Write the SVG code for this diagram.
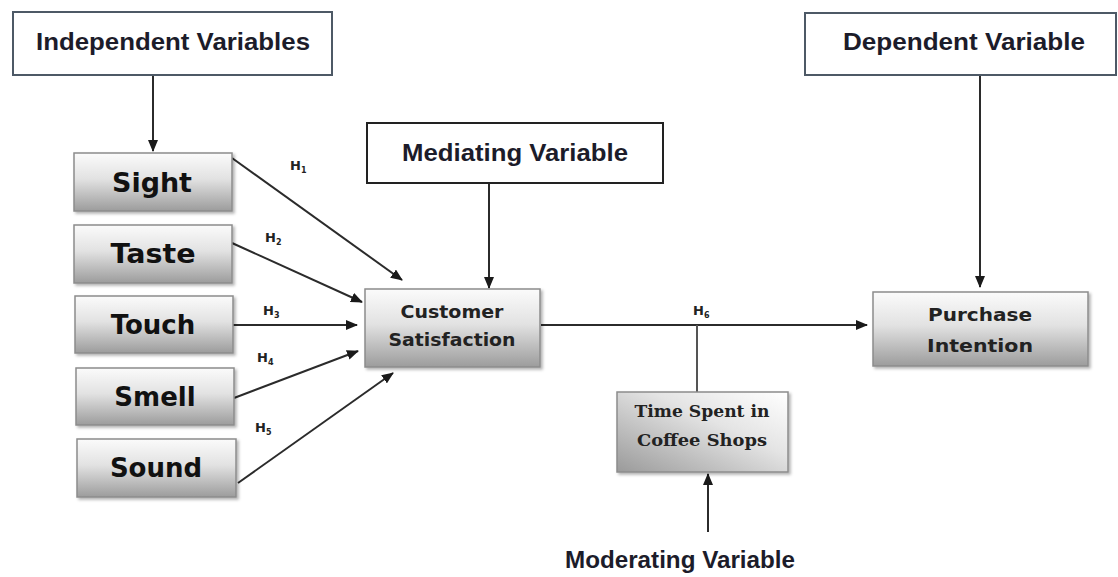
<svg xmlns="http://www.w3.org/2000/svg" width="1118" height="577" viewBox="0 0 1118 577">
<style>
.hdr{fill:#fff;stroke:#4d5966;stroke-width:2}
.hdrtxt{font-family:"Liberation Sans",Arial,sans-serif;font-weight:bold;font-size:23px;fill:#1c1c2a;text-anchor:middle}
.box{fill:url(#g);stroke:#8c8c8c;stroke-width:1.5;filter:url(#sh)}
.sense{font-family:"DejaVu Sans",sans-serif;font-weight:bold;font-size:26px;fill:#111;text-anchor:middle}
.mid{font-family:"DejaVu Sans",sans-serif;font-weight:bold;font-size:18px;fill:#222;text-anchor:middle}
.serif{font-family:"DejaVu Serif",serif;font-weight:bold;font-size:16px;fill:#222;text-anchor:middle}
.h{font-family:"DejaVu Sans",sans-serif;font-weight:bold;font-size:13px;fill:#222}
.ln{stroke:#2b2b2b;stroke-width:2;fill:none;marker-end:url(#a)}
.pl{stroke:#555;stroke-width:2;fill:none}
</style>
<defs>
<linearGradient id="g" x1="0" y1="0" x2="0" y2="1">
<stop offset="0" stop-color="#fbfbfb"/>
<stop offset="0.45" stop-color="#e2e2e2"/>
<stop offset="1" stop-color="#9c9c9c"/>
</linearGradient>
<linearGradient id="g2" x1="0" y1="1" x2="1" y2="0">
<stop offset="0" stop-color="#9a9a9a"/>
<stop offset="0.6" stop-color="#e4e4e4"/>
<stop offset="1" stop-color="#ffffff"/>
</linearGradient>
<filter id="sh" x="-10%" y="-10%" width="125%" height="130%">
<feDropShadow dx="2" dy="2" stdDeviation="1.5" flood-color="#000" flood-opacity="0.3"/>
</filter>
<marker id="a" markerWidth="12" markerHeight="10" refX="11" refY="5" orient="auto" markerUnits="userSpaceOnUse">
<path d="M0,0 L12,5 L0,10 Z" fill="#1a1a1a"/>
</marker>
</defs>

<g id="connectors">
<line class="ln" x1="153" y1="76" x2="153" y2="151"/>
<line class="ln" x1="232" y1="158" x2="402" y2="280"/>
<line class="ln" x1="232" y1="243" x2="362" y2="302"/>
<line class="ln" x1="233" y1="325" x2="357" y2="325"/>
<line class="ln" x1="234" y1="398" x2="358" y2="351"/>
<line class="ln" x1="238" y1="483" x2="393" y2="373"/>
<line class="ln" x1="489" y1="184" x2="489" y2="288"/>
<line class="ln" x1="541" y1="325" x2="867" y2="325"/>
<line class="pl" x1="697" y1="325" x2="697" y2="392"/>
<line class="ln" x1="708" y1="532" x2="708" y2="474"/>
<line class="ln" x1="980" y1="76" x2="980" y2="287"/>
</g>

<g id="lbl-h">
<text class="h" x="290" y="170">H<tspan font-size="8" dy="3">1</tspan></text>
<text class="h" x="265" y="242">H<tspan font-size="8" dy="3">2</tspan></text>
<text class="h" x="263" y="315">H<tspan font-size="8" dy="3">3</tspan></text>
<text class="h" x="257" y="362">H<tspan font-size="8" dy="3">4</tspan></text>
<text class="h" x="255" y="432">H<tspan font-size="8" dy="3">5</tspan></text>
<text class="h" x="693" y="315">H<tspan font-size="8" dy="3">6</tspan></text>
</g>

<g id="independent">
<rect class="hdr" x="13" y="12" width="319" height="63"/>
<text class="hdrtxt" x="173" y="50" textLength="274" lengthAdjust="spacingAndGlyphs">Independent Variables</text>
</g>
<g id="dependent">
<rect class="hdr" x="805" y="13" width="311" height="62"/>
<text class="hdrtxt" x="964" y="50" textLength="242" lengthAdjust="spacingAndGlyphs">Dependent Variable</text>
</g>
<g id="mediating">
<rect class="hdr" x="367" y="123" width="296" height="60" style="stroke:#222"/>
<text class="hdrtxt" x="515" y="161" textLength="226" lengthAdjust="spacingAndGlyphs">Mediating Variable</text>
</g>
<g id="moderating">
<text class="hdrtxt" x="680" y="568" textLength="230" lengthAdjust="spacingAndGlyphs">Moderating Variable</text>
</g>

<g id="sight"><rect class="box" x="74" y="153" width="158" height="58"/><text class="sense" x="152" y="192" textLength="80" lengthAdjust="spacingAndGlyphs">Sight</text></g>
<g id="taste"><rect class="box" x="74" y="225" width="158" height="58"/><text class="sense" x="153" y="263" textLength="85" lengthAdjust="spacingAndGlyphs">Taste</text></g>
<g id="touch"><rect class="box" x="75" y="296" width="158" height="57"/><text class="sense" x="153" y="334">Touch</text></g>
<g id="smell"><rect class="box" x="76" y="368" width="158" height="57"/><text class="sense" x="155" y="406">Smell</text></g>
<g id="sound"><rect class="box" x="77" y="439" width="159" height="58"/><text class="sense" x="156" y="477">Sound</text></g>

<g id="customer-satisfaction">
<rect class="box" x="365" y="289" width="175" height="78"/>
<text class="mid" x="452" y="318" textLength="103" lengthAdjust="spacingAndGlyphs">Customer</text>
<text class="mid" x="452" y="346" textLength="127" lengthAdjust="spacingAndGlyphs">Satisfaction</text>
</g>

<g id="purchase-intention">
<rect class="box" x="873" y="292" width="215" height="74"/>
<text class="mid" x="980" y="321" textLength="104" lengthAdjust="spacingAndGlyphs">Purchase</text>
<text class="mid" x="980" y="352" textLength="106" lengthAdjust="spacingAndGlyphs">Intention</text>
</g>

<g id="time-spent">
<rect class="box" x="617" y="392" width="171" height="80" style="fill:url(#g2)"/>
<text class="serif" x="702" y="417" textLength="135" lengthAdjust="spacingAndGlyphs">Time Spent in</text>
<text class="serif" x="702" y="446" textLength="130" lengthAdjust="spacingAndGlyphs">Coffee Shops</text>
</g>
</svg>
